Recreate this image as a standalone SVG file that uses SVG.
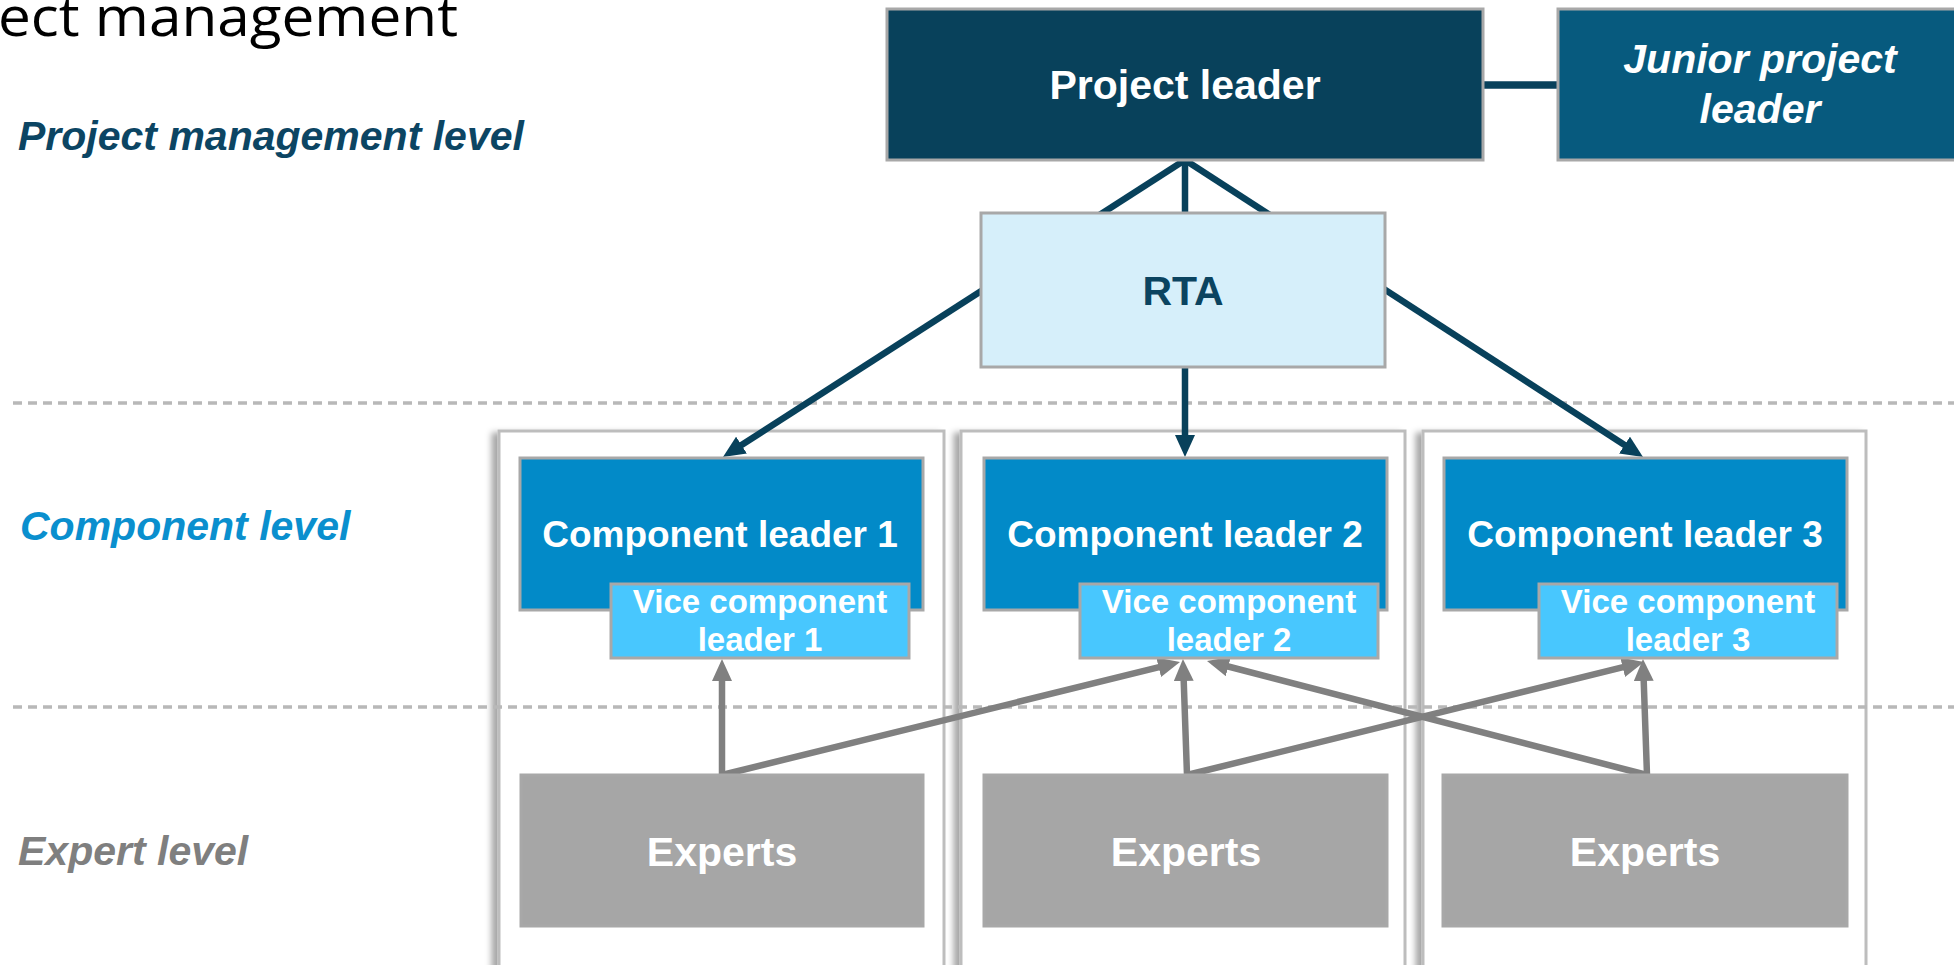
<svg xmlns="http://www.w3.org/2000/svg" width="1954" height="965" viewBox="0 0 1954 965">
<defs>
<style>
.lbl{font-family:"Liberation Sans",Arial,sans-serif;font-weight:bold;font-style:italic;font-size:41px}
.t{font-family:"Liberation Sans",Arial,sans-serif;font-weight:bold;text-anchor:middle;fill:#ffffff}
.box{stroke:#a8a8a8;stroke-width:3}
.col{fill:#ffffff;stroke:#bdbdbd;stroke-width:3}
.dash{stroke:#b8b8b8;stroke-width:3.5;stroke-dasharray:9 6;fill:none}
.dk{stroke:#08415b;stroke-width:6.5;fill:none}
.gr{stroke:#808080;stroke-width:6.5;fill:none;stroke-linecap:round}
</style>
<filter id="sh" x="-5%" y="-5%" width="110%" height="110%">
<feDropShadow dx="-6" dy="3" stdDeviation="3" flood-color="#000000" flood-opacity="0.35"/>
</filter>
<marker id="ad" markerUnits="userSpaceOnUse" markerWidth="22" markerHeight="20" refX="12" refY="10" orient="auto">
<path d="M0,0 L22,10 L0,20 z" fill="#08415b"/>
</marker>
<marker id="ag" markerUnits="userSpaceOnUse" markerWidth="22" markerHeight="20" refX="12" refY="10" orient="auto">
<path d="M0,0 L22,10 L0,20 z" fill="#808080"/>
</marker>
</defs>
<rect width="1954" height="965" fill="#ffffff"/>

<text x="-2" y="36" font-family="'Open Sans','Liberation Sans',sans-serif" font-size="54" fill="#000000" textLength="460" lengthAdjust="spacingAndGlyphs">ect management</text>

<text class="lbl" x="18" y="150" fill="#0c4563">Project management level</text>
<text class="lbl" x="20" y="540" fill="#0a8fce">Component level</text>
<text class="lbl" x="18" y="865" fill="#7f7f7f">Expert level</text>

<g id="columns">
<rect class="col" x="499" y="431" width="445" height="560" filter="url(#sh)"/>
<rect class="col" x="961" y="431" width="444" height="560" filter="url(#sh)"/>
<rect class="col" x="1423" y="431" width="443" height="560" filter="url(#sh)"/>
</g>

<g id="level-separators">
<line class="dash" x1="13" y1="403" x2="1954" y2="403"/>
<line class="dash" x1="13" y1="707" x2="1954" y2="707"/>
</g>

<g id="connectors">
<line class="dk" x1="1483" y1="85" x2="1558" y2="85" style="stroke-width:7.5"/>
<line class="dk" x1="1185" y1="160" x2="731.4" y2="451.6" marker-end="url(#ad)"/>
<line class="dk" x1="1185" y1="160" x2="1185" y2="447" marker-end="url(#ad)"/>
<line class="dk" x1="1185" y1="160" x2="1634.6" y2="451.6" marker-end="url(#ad)"/>
<line class="gr" x1="722" y1="775" x2="722" y2="669" marker-end="url(#ag)"/>
<line class="gr" x1="722" y1="775" x2="1170.3" y2="664.4" marker-end="url(#ag)"/>
<line class="gr" x1="1187" y1="775" x2="1183.3" y2="669" marker-end="url(#ag)"/>
<line class="gr" x1="1187" y1="775" x2="1634.3" y2="664.4" marker-end="url(#ag)"/>
<line class="gr" x1="1647" y1="775" x2="1216.7" y2="663.5" marker-end="url(#ag)"/>
<line class="gr" x1="1647" y1="775" x2="1643.3" y2="669" marker-end="url(#ag)"/>
</g>

<g id="project-leader">
<rect class="box" x="887" y="9" width="596" height="151" fill="#08415b"/>
<text class="t" x="1185" y="99" font-size="41">Project leader</text>
</g>

<g id="junior-project-leader">
<rect class="box" x="1558" y="9" width="404" height="151" fill="#075a7e"/>
<text class="t" x="1760" y="73" font-size="41" font-style="italic">Junior project</text>
<text class="t" x="1760" y="123" font-size="41" font-style="italic">leader</text>
</g>

<g id="rta">
<rect class="box" x="981" y="213" width="404" height="154" fill="#d6effa"/>
<text class="t" x="1183" y="305" font-size="41" style="fill:#0b4460">RTA</text>
</g>

<g id="component-leader-1">
<rect class="box" x="520" y="458" width="403" height="152" fill="#028ac8"/>
<text class="t" x="720" y="547" font-size="37">Component leader 1</text>
</g>
<g id="vice-component-leader-1">
<rect class="box" x="611" y="584" width="298" height="74" fill="#48c7fe"/>
<text class="t" x="760" y="613" font-size="33">Vice component</text>
<text class="t" x="760" y="651" font-size="33">leader 1</text>
</g>
<g id="experts-1">
<rect class="box" x="521" y="775" width="402" height="151" fill="#a6a6a6"/>
<text class="t" x="722" y="866" font-size="41">Experts</text>
</g>

<g id="component-leader-2">
<rect class="box" x="984" y="458" width="403" height="152" fill="#028ac8"/>
<text class="t" x="1185" y="547" font-size="37">Component leader 2</text>
</g>
<g id="vice-component-leader-2">
<rect class="box" x="1080" y="584" width="298" height="74" fill="#48c7fe"/>
<text class="t" x="1229" y="613" font-size="33">Vice component</text>
<text class="t" x="1229" y="651" font-size="33">leader 2</text>
</g>
<g id="experts-2">
<rect class="box" x="984" y="775" width="403" height="151" fill="#a6a6a6"/>
<text class="t" x="1186" y="866" font-size="41">Experts</text>
</g>

<g id="component-leader-3">
<rect class="box" x="1444" y="458" width="403" height="152" fill="#028ac8"/>
<text class="t" x="1645" y="547" font-size="37">Component leader 3</text>
</g>
<g id="vice-component-leader-3">
<rect class="box" x="1539" y="584" width="298" height="74" fill="#48c7fe"/>
<text class="t" x="1688" y="613" font-size="33">Vice component</text>
<text class="t" x="1688" y="651" font-size="33">leader 3</text>
</g>
<g id="experts-3">
<rect class="box" x="1443" y="775" width="404" height="151" fill="#a6a6a6"/>
<text class="t" x="1645" y="866" font-size="41">Experts</text>
</g>
</svg>
